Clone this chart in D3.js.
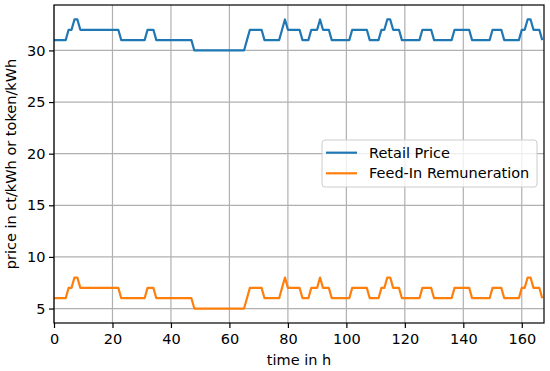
<!DOCTYPE html>
<html>
<head>
<meta charset="utf-8">
<script src="https://cdn.jsdelivr.net/npm/d3@7"></script>
<style>
  body { margin: 0; background: #fff; }
  text { font-family: "DejaVu Sans", sans-serif; }
</style>
</head>
<body>
<svg id="chart" width="550" height="371"></svg>
<script>
// hourly prices over one week (ct/kWh)
var retailPrice = [
  31,31,31,31,31,32,32,33,33,32,32,32,32,32,32,32,32,32,32,32,32,32,32,31,
  31,31,31,31,31,31,31,31,32,32,32,31,31,31,31,31,31,31,31,31,31,31,31,31,
  30,30,30,30,30,30,30,30,30,30,30,30,30,30,30,30,30,30,31,32,32,32,32,32,
  31,31,31,31,31,31,32,33,32,32,32,32,32,31,31,31,32,32,32,33,32,32,32,31,
  31,31,31,31,31,31,32,32,32,32,32,32,31,31,31,31,32,32,33,33,32,32,32,31,
  31,31,31,31,31,31,32,32,32,32,31,31,31,31,31,31,31,32,32,32,32,32,32,31,
  31,31,31,31,31,31,32,32,32,32,31,31,31,31,31,31,32,32,33,33,32,32,32,31
];
var feedIn = [
  6,6,6,6,6,7,7,8,8,7,7,7,7,7,7,7,7,7,7,7,7,7,7,6,
  6,6,6,6,6,6,6,6,7,7,7,6,6,6,6,6,6,6,6,6,6,6,6,6,
  5,5,5,5,5,5,5,5,5,5,5,5,5,5,5,5,5,5,6,7,7,7,7,7,
  6,6,6,6,6,6,7,8,7,7,7,7,7,6,6,6,7,7,7,8,7,7,7,6,
  6,6,6,6,6,6,7,7,7,7,7,7,6,6,6,6,7,7,8,8,7,7,7,6,
  6,6,6,6,6,6,7,7,7,7,6,6,6,6,6,6,6,7,7,7,7,7,7,6,
  6,6,6,6,6,6,7,7,7,7,6,6,6,6,6,6,7,7,8,8,7,7,7,6
];
var seriesNames = ["Retail Price", "Feed-In Remuneration"];
var seriesColors = ["#1f77b4", "#ff7f0e"];
var xTicks = [0, 20, 40, 60, 80, 100, 120, 140, 160];
var yTicks = [5, 10, 15, 20, 25, 30];

var LEFT = 54, RIGHT = 544, TOP = 5, BOTTOM = 323;
var FONT = "14.5px";

var svg = d3.select("#chart");

var x = d3.scaleLinear().domain([0, 167.6]).range([LEFT, RIGHT]);
var y = d3.scaleLinear().domain([3.6, 34.4]).range([BOTTOM, TOP]);

// grid
var g_grid = svg.append("g");
g_grid.selectAll("line.vx")
    .data(xTicks).enter().append("line")
    .attr("x1", d => x(d)).attr("x2", d => x(d))
    .attr("y1", TOP).attr("y2", BOTTOM)
    .style("stroke", "#b0b0b0").style("stroke-width", 1.2);
g_grid.selectAll("line.hy")
    .data(yTicks).enter().append("line")
    .attr("x1", LEFT).attr("x2", RIGHT)
    .attr("y1", d => y(d)).attr("y2", d => y(d))
    .style("stroke", "#b0b0b0").style("stroke-width", 1.2);

// lines
var line = d3.line().x((d, i) => x(i)).y(d => y(d));
var g_lines = svg.append("g");
[retailPrice, feedIn].forEach(function(s, k) {
    g_lines.append("path")
        .datum(s)
        .attr("d", line)
        .style("fill", "none")
        .style("stroke", seriesColors[k])
        .style("stroke-width", 2.2)
        .style("stroke-linejoin", "round");
});

// axes
var xAxis = svg.append("g")
    .attr("transform", "translate(0," + BOTTOM + ")")
    .call(d3.axisBottom(x).tickValues(xTicks).tickSize(5).tickPadding(5.5).tickFormat(d3.format("d")));
var yAxis = svg.append("g")
    .attr("transform", "translate(" + LEFT + ",0)")
    .call(d3.axisLeft(y).tickValues(yTicks).tickSize(5).tickPadding(3.5).tickFormat(d3.format("d")));
[xAxis, yAxis].forEach(function(a) {
    a.select(".domain").remove();
    a.selectAll("line").style("stroke", "#000").style("stroke-width", 1.2);
    a.selectAll("text").style("font-size", FONT).style("fill", "#000")
        .style("font-family", "DejaVu Sans");
});

// frame
svg.append("rect")
    .attr("x", LEFT).attr("y", TOP)
    .attr("width", RIGHT - LEFT).attr("height", BOTTOM - TOP)
    .style("fill", "none").style("stroke", "#000").style("stroke-width", 1.2);

// axis labels
svg.append("text")
    .attr("x", (LEFT + RIGHT) / 2).attr("y", 365)
    .attr("text-anchor", "middle")
    .style("font-size", FONT)
    .text("time in h");
svg.append("text")
    .attr("transform", "translate(16,164) rotate(-90)")
    .attr("text-anchor", "middle")
    .style("font-size", FONT)
    .text("price in ct/kWh or token/kWh");

// legend
var legend = svg.append("g");
legend.append("rect")
    .attr("x", 322).attr("y", 140)
    .attr("width", 215).attr("height", 47)
    .attr("rx", 3)
    .style("fill", "#fff").style("fill-opacity", 0.8)
    .style("stroke", "#cccccc").style("stroke-width", 1);
seriesNames.forEach(function(name, k) {
    var ly = 152.7 + k * 20.6;
    legend.append("line")
        .attr("x1", 326).attr("x2", 357)
        .attr("y1", ly).attr("y2", ly)
        .style("stroke", seriesColors[k]).style("stroke-width", 2.2);
    legend.append("text")
        .attr("x", 369).attr("y", ly + 5)
        .style("font-size", FONT)
        .text(name);
});
</script>
</body>
</html>
